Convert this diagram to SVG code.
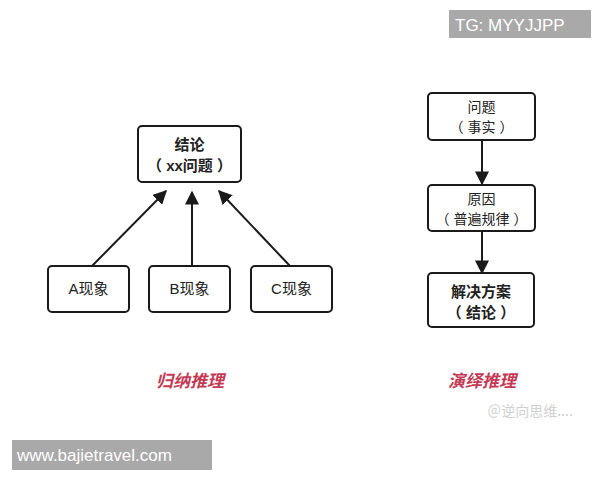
<svg xmlns="http://www.w3.org/2000/svg" width="600" height="480" viewBox="0 0 600 480">
<defs>
<style>
.box{fill:#fff;stroke:#1a1a1a;stroke-width:2}
.t{font-family:"Liberation Sans","Noto Sans CJK SC",sans-serif;fill:#222;text-anchor:middle}
.b{font-weight:bold}
.edge{stroke:#1a1a1a;stroke-width:2;fill:none;marker-end:url(#ah)}
.red{font-family:"Noto Sans CJK SC",sans-serif;fill:#c43a55;font-style:italic;font-weight:bold;font-size:17px;text-anchor:middle}
.wm{font-family:"Liberation Sans",sans-serif;fill:#fff;font-size:17px}
</style>
<marker id="ah" viewBox="0 0 10 10" refX="9" refY="5" markerWidth="7" markerHeight="7" orient="auto" markerUnits="strokeWidth">
<path d="M0,0 L10,5 L0,10 z" fill="#1a1a1a"/>
</marker>
</defs>
<rect width="600" height="480" fill="#fff"/>
<g id="connectors">
<line class="edge" x1="92" y1="266" x2="166" y2="191"/>
<line class="edge" x1="192" y1="266" x2="192" y2="192"/>
<line class="edge" x1="290" y1="266" x2="219" y2="191"/>
<line class="edge" x1="482" y1="141" x2="482" y2="184"/>
<line class="edge" x1="482" y1="231" x2="482" y2="273"/>
</g>
<g id="n-conclusion">
<rect class="box" x="138" y="126" width="103" height="56" rx="4"/>
<text class="t b" x="189.5" y="150" font-size="15">结论</text>
<text class="t" x="189.5" y="171" font-size="15" font-weight="bold">（ xx问题 ）</text>
</g>
<g id="n-a">
<rect class="box" x="48" y="266" width="81" height="46" rx="4"/>
<text class="t" x="88.5" y="294" font-size="15">A现象</text>
</g>
<g id="n-b">
<rect class="box" x="149" y="266" width="81" height="46" rx="4"/>
<text class="t" x="189.5" y="294" font-size="15">B现象</text>
</g>
<g id="n-c">
<rect class="box" x="251" y="266" width="81" height="46" rx="4"/>
<text class="t" x="291.5" y="294" font-size="15">C现象</text>
</g>
<g id="n-problem">
<rect class="box" x="428" y="93" width="107" height="47" rx="4"/>
<text class="t" x="481.5" y="112" font-size="14">问题</text>
<text class="t" x="481.5" y="132" font-size="14">（ 事实 ）</text>
</g>
<g id="n-cause">
<rect class="box" x="428" y="185" width="107" height="46" rx="4"/>
<text class="t" x="481.5" y="204" font-size="14">原因</text>
<text class="t" x="481.5" y="224" font-size="14">（ 普遍规律 ）</text>
</g>
<g id="n-solution">
<rect class="box" x="428" y="273" width="106" height="54" rx="4"/>
<text class="t b" x="481" y="297" font-size="15">解决方案</text>
<text class="t b" x="481" y="318" font-size="15">（ 结论 ）</text>
</g>
<text class="red" x="190" y="387">归纳推理</text>
<text class="red" x="482" y="387">演绎推理</text>
<text x="530" y="416" font-family="Noto Sans CJK SC,sans-serif" font-size="14" fill="#d0d0d0" text-anchor="middle">＠逆向思维....</text>
<rect x="449" y="10" width="142" height="28" fill="#a9a9a9"/>
<text class="wm" x="455" y="31">TG: MYYJJPP</text>
<rect x="12" y="440" width="200" height="30" fill="#a9a9a9"/>
<text class="wm" x="17" y="461">www.bajietravel.com</text>
</svg>
